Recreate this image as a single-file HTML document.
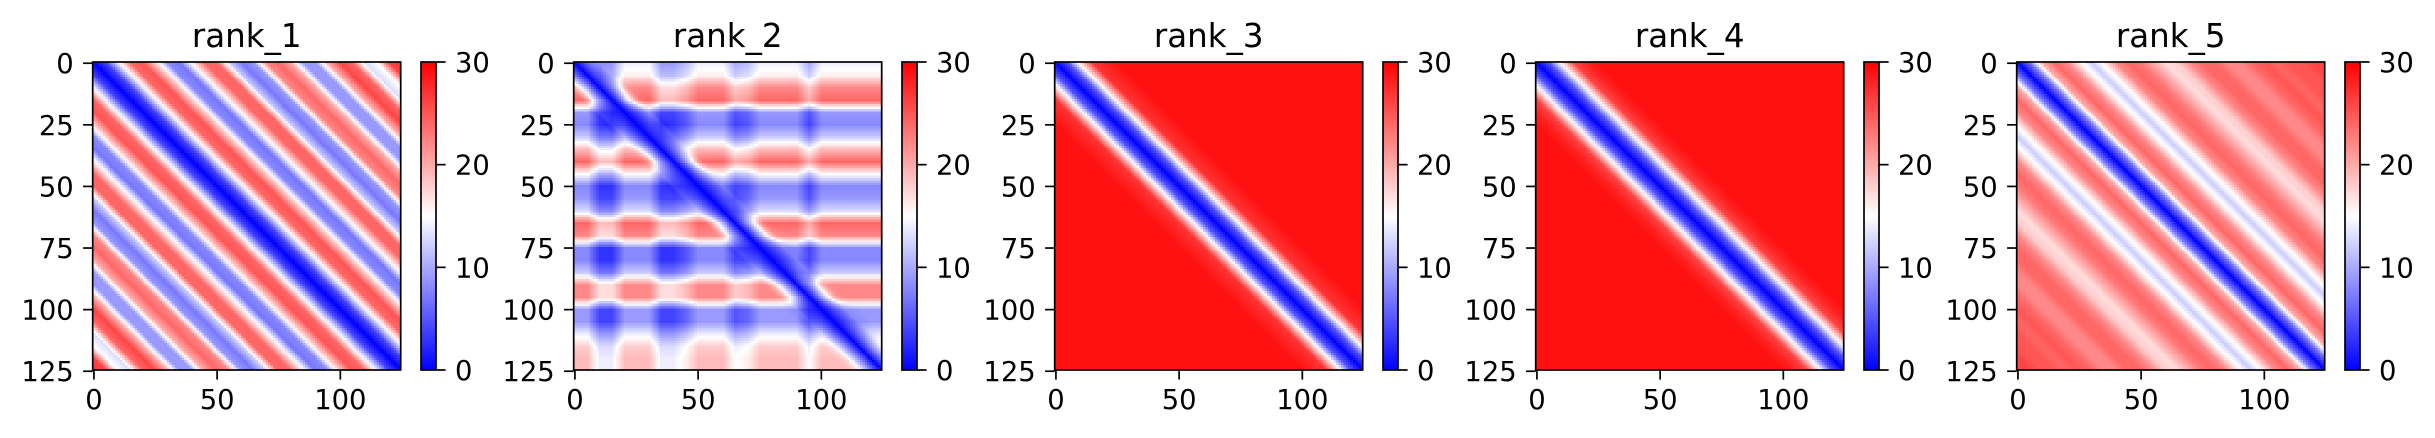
<!DOCTYPE html>
<html><head><meta charset="utf-8">
<style>
html,body{margin:0;padding:0;background:#fff;}
#fig{position:relative;width:2435px;height:438px;overflow:hidden;font-family:"DejaVu Sans","Liberation Sans",sans-serif;}
canvas{position:absolute;image-rendering:pixelated;}
svg{position:absolute;left:0;top:0;}
</style></head>
<body>
<div id="fig">
<svg id="ov" width="2435" height="438"></svg>
</div>
<script>
// ---- data ----
const panelTitles = ["rank_1","rank_2","rank_3","rank_4","rank_5"];
const offsetSamples = [0,5,10,15,20,25,30,35,40,45,50,55,60,65,70,75,80,85,90,95,100,105,110,115,120,125];
const rank1Profile = [0,4,14,24,25,18,8,7,16,24,24,12,7,9,22,24,20,9,9,20,26,24,13,15,26,27];
const rank2Profile = [0,5,10,11,11,11,11,11,11,11,11,11,11,11,11,11,11,11,11,11,11,11,11,11,11,11];
const rank3Profile = [0,5,17,27,28,29,29,29,29,29,29,29,29,29,29,29,29,29,29,29,29,29,29,29,29,29];
const rank4Profile = [0,5,16,26,28,29,29,29,29,29,29,29,29,29,29,29,29,29,29,29,29,29,29,29,29,29];
const rank5Profile = [0,7,20,24,22,16,12,16,22,24,23,20,17,18,22,24,24,22,22,24,25,24,25,25,26,26];
const rank2RowAdj = [3,5,11,13,-2,-3,1,8,13,4,-3,-2,2,13,11,-3,-3,1,11,11,-2,-2,3,7,8];
const rank2ColAdj = [0,0,-5,-5,0,0,0,-5,-5,-3,0,0,0,-4,-3,0,0,0,0,-4,0,0,0,0,0];
const zeroAdj = [0,0,0,0,0,0,0,0,0,0,0,0,0,0,0,0,0,0,0,0,0,0,0,0,0];
const profiles = [rank1Profile,rank2Profile,rank3Profile,rank4Profile,rank5Profile];
const rowAdjs = [zeroAdj,rank2RowAdj,zeroAdj,zeroAdj,zeroAdj];
const colAdjs = [zeroAdj,rank2ColAdj,zeroAdj,zeroAdj,zeroAdj];
const axisTicks = [0,25,50,75,100,125];
const xAxisTicks = [0,50,100];
const cbarTicks = [0,10,20,30];
const N = 125, VMIN = 0, VMAX = 30;

// ---- layout ----
const AX0 = 92.7, STEP = 481, TOP = 62, SIZE = 308, CBOFF = 328.3, CBW = 15;
const NS = "http://www.w3.org/2000/svg";
const ov = document.getElementById('ov');
const fig = document.getElementById('fig');
function interp(arr, d){
  const k = d/5; const i0 = Math.min(Math.floor(k), arr.length-1); const i1 = Math.min(i0+1, arr.length-1);
  const t = k - i0; return arr[i0]*(1-t)+arr[i1]*t;
}
function bwr(v){
  v = Math.max(VMIN, Math.min(VMAX, v));
  const h=(VMIN+VMAX)/2;
  if (v < h){ const t=(v-VMIN)/(h-VMIN); return [Math.round(255*t),Math.round(255*t),255]; }
  const t=(v-h)/(VMAX-h); return [255,Math.round(255*(1-t)),Math.round(255*(1-t))];
}
function xs(L, v){ return L + (v+0.5)/N*SIZE; }
function ys(v){ return TOP + (v+0.5)/N*SIZE; }
function mk(tag, attrs){ const e=document.createElementNS(NS,tag); for(const k in attrs) e.setAttribute(k,attrs[k]); ov.appendChild(e); return e; }

panelTitles.forEach((title, p) => {
  const L = AX0 + STEP*p;
  const cv = document.createElement('canvas');
  
  
  cv.width = N; cv.height = N;
  cv.style.left = L+'px'; cv.style.top = TOP+'px'; cv.style.width = SIZE+'px'; cv.style.height = SIZE+'px';
  fig.insertBefore(cv, ov);
  const ctx = cv.getContext('2d'); const img = ctx.createImageData(N,N);
  for (let i=0;i<N;i++) for (let j=0;j<N;j++){
    const d = Math.abs(i-j);
    const w = Math.min(1, d/12);
    const v = interp(profiles[p], d) + w*(interp(rowAdjs[p], i) + interp(colAdjs[p], j));
    const c = bwr(v); const o=(i*N+j)*4;
    img.data[o]=c[0]; img.data[o+1]=c[1]; img.data[o+2]=c[2]; img.data[o+3]=255;
  }
  ctx.putImageData(img,0,0);

  // colorbar
  const cb = document.createElement('canvas');
  
  
  cb.width = 1; cb.height = 256;
  cb.style.left = (L+CBOFF)+'px'; cb.style.top = TOP+'px'; cb.style.width = CBW+'px'; cb.style.height = SIZE+'px';
  fig.insertBefore(cb, ov);
  const cctx = cb.getContext('2d'); const cimg = cctx.createImageData(1,256);
  for (let k=0;k<256;k++){ const c=bwr(VMAX - (k+0.5)/256*(VMAX-VMIN)); cimg.data[k*4]=c[0];cimg.data[k*4+1]=c[1];cimg.data[k*4+2]=c[2];cimg.data[k*4+3]=255; }
  cctx.putImageData(cimg,0,0);

  // frames
  const fr = mk('rect',{x:L,y:TOP,width:SIZE,height:SIZE,fill:'none',stroke:'#000','stroke-width':1.7});
  
  
  const cf = mk('rect',{x:L+CBOFF,y:TOP,width:CBW,height:SIZE,fill:'none',stroke:'#000','stroke-width':1.7});
  
  

  // title
  const tt = mk('text',{x:L+SIZE/2,y:47,'text-anchor':'middle','font-size':32.5,fill:'#000'});
  tt.textContent = title;
  
  

  // y ticks
  axisTicks.forEach(t => {
    const y = ys(t);
    const ln = mk('line',{x1:L-9.6,x2:L,y1:y,y2:y,stroke:'#000','stroke-width':1.7});
    
    
    const tx = mk('text',{x:L-19,y:y+10,'text-anchor':'end','font-size':27.4,fill:'#000'});
    tx.textContent = String(t);
    
    
  });
  // x ticks
  xAxisTicks.forEach(t => {
    const x = xs(L, t);
    const ln = mk('line',{x1:x,x2:x,y1:TOP+SIZE,y2:TOP+SIZE+9.6,stroke:'#000','stroke-width':1.7});
    
    
    const tx = mk('text',{x:x,y:TOP+SIZE+19+20,'text-anchor':'middle','font-size':27.4,fill:'#000'});
    tx.textContent = String(t);
    
    
  });
  // colorbar ticks
  cbarTicks.forEach(t => {
    const y = TOP + SIZE*(1-(t-VMIN)/(VMAX-VMIN));
    const x0 = L+CBOFF+CBW;
    const ln = mk('line',{x1:x0,x2:x0+9.6,y1:y,y2:y,stroke:'#000','stroke-width':1.7});
    
    
    const tx = mk('text',{x:x0+19,y:y+10,'text-anchor':'start','font-size':27.4,fill:'#000'});
    tx.textContent = String(t);
    
    
  });
});
</script>
</body></html>
